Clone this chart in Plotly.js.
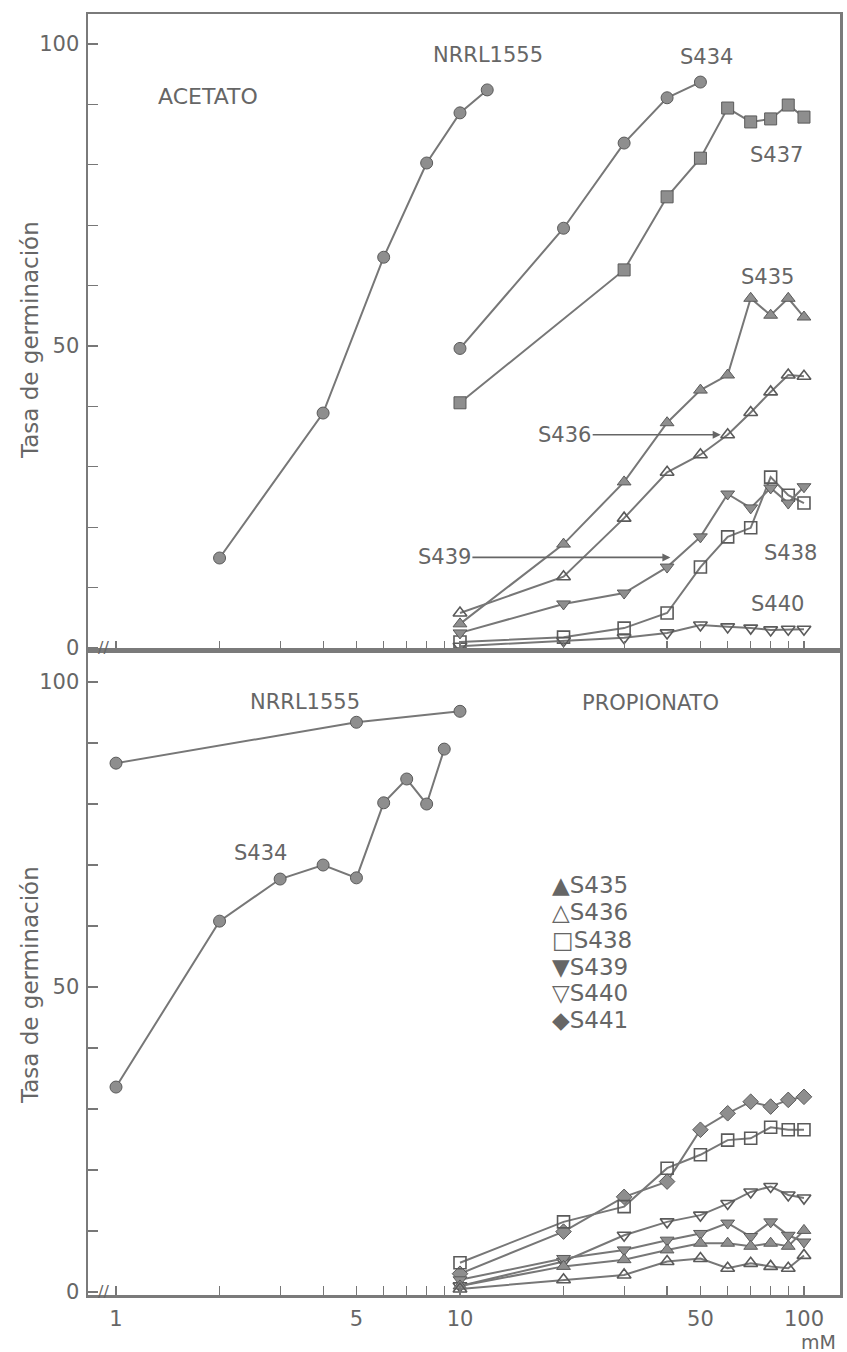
<!DOCTYPE html>
<html>
<head>
<meta charset="utf-8">
<script src="https://cdn.plot.ly/plotly-3.0.1.min.js"></script>
<style>html,body{margin:0;padding:0;background:#fff;}#chart{width:847px;height:1352px;}</style>
</head>
<body>
<div id="chart"></div>
<script>
// ---------- DATA ----------
// Concentrations (mM)
const concAll = [10, 20, 30, 40, 50, 60, 70, 80, 90, 100];

// Top panel: ACETATO
const topNRRL_x = [2, 4, 6, 8, 10, 12];
const topNRRL_y = [14.9, 38.9, 64.7, 80.3, 88.6, 92.4];
const topS434_x = [10, 20, 30, 40, 50];
const topS434_y = [49.6, 69.5, 83.6, 91.1, 93.7];
const topS437_x = [10, 30, 40, 50, 60, 70, 80, 90, 100];
const topS437_y = [40.6, 62.6, 74.7, 81.1, 89.4, 87.1, 87.6, 89.9, 87.9];
const topS435_y = [4.0, 17.2, 27.5, 37.3, 42.7, 45.2, 57.9, 55.1, 57.9, 54.8];
const topS436_y = [5.8, 11.8, 21.5, 29.1, 32.0, 35.3, 39.0, 42.4, 45.2, 45.0];
const topS438_y = [1.0, 1.8, 3.3, 5.8, 13.4, 18.4, 19.9, 28.3, 25.3, 24.0];
const topS439_y = [2.5, 7.3, 9.1, 13.4, 18.4, 25.5, 23.2, 26.5, 24.0, 26.7];
const topS440_y = [0.3, 1.2, 1.7, 2.5, 3.8, 3.5, 3.3, 3.0, 3.1, 3.1];

// Bottom panel: PROPIONATO
const botNRRL_x = [1, 5, 10];
const botNRRL_y = [86.7, 93.4, 95.2];
const botS434_x = [1, 2, 3, 4, 5, 6, 7, 8, 9];
const botS434_y = [33.6, 60.8, 67.7, 70.0, 67.9, 80.2, 84.1, 80.0, 89.0];
const botS435_y = [1.0, 4.2, 5.3, 6.9, 8.0, 8.0, 7.5, 8.0, 7.5, 10.1];
const botS436_y = [0.5, 2.0, 2.8, 5.0, 5.5, 3.9, 4.7, 4.2, 3.9, 6.0];
const botS438_y = [4.8, 11.5, 14.0, 20.3, 22.5, 24.9, 25.2, 27.0, 26.6, 26.6];
const botS439_y = [2.0, 5.5, 6.9, 8.5, 9.6, 11.3, 9.1, 11.5, 9.3, 8.2];
const botS440_y = [1.0, 5.0, 9.3, 11.5, 12.6, 14.5, 16.4, 17.3, 15.9, 15.4];
const botS441_y = [3.0, 9.9, 15.6, 18.1, 26.6, 29.3, 31.2, 30.4, 31.5, 32.0];

// Tick values / labels
const xTickVals = [1,2,3,4,5,6,7,8,9,10,20,30,40,50,60,70,80,90,100];
const xTickText = ['1','','','','5','','','','','10','','','','50','','','','','100'];
const yTickVals = [0,10,20,30,40,50,60,70,80,90,100];
const yTickText = ['0','','','','','50','','','','','100'];

const legendItems = ['▲S435', '△S436', '□S438', '▼S439', '▽S440', '◆S441'];

// ---------- STYLE ----------
const LINE = '#777';
const FILL = '#8e8e8e';
const EDGE = '#5a5a5a';
const TXT = '#666';
const FONT = 'DejaVu Sans, Liberation Sans, sans-serif';

function tr(x, y, sym, axis) {
  const open = sym.indexOf('open') >= 0;
  return {
    x: x, y: y, xaxis: axis === 2 ? 'x2' : 'x', yaxis: axis === 2 ? 'y2' : 'y',
    type: 'scatter', mode: 'lines+markers', showlegend: false, hoverinfo: 'skip',
    line: {color: LINE, width: 2},
    marker: {symbol: sym, size: 12, color: open ? EDGE : FILL,
             line: {color: EDGE, width: open ? 1.6 : 1}}
  };
}

const data = [
  tr(topNRRL_x, topNRRL_y, 'circle', 1),
  tr(topS434_x, topS434_y, 'circle', 1),
  tr(topS437_x, topS437_y, 'square', 1),
  tr(concAll, topS435_y, 'triangle-up', 1),
  tr(concAll, topS436_y, 'triangle-up-open', 1),
  tr(concAll, topS438_y, 'square-open', 1),
  tr(concAll, topS439_y, 'triangle-down', 1),
  tr(concAll, topS440_y, 'triangle-down-open', 1),
  tr(botNRRL_x, botNRRL_y, 'circle', 2),
  tr(botS434_x, botS434_y, 'circle', 2),
  tr(concAll, botS441_y, 'diamond', 2),
  tr(concAll, botS438_y, 'square-open', 2),
  tr(concAll, botS440_y, 'triangle-down-open', 2),
  tr(concAll, botS439_y, 'triangle-down', 2),
  tr(concAll, botS435_y, 'triangle-up', 2),
  tr(concAll, botS436_y, 'triangle-up-open', 2)
];

// ---------- LAYOUT ----------
const W = 847, H = 1352, ML = 88, MR = 7, MT = 14, MB = 57;
const PW = W - ML - MR, PH = H - MT - MB;
const px = v => (v - ML) / PW;
const py = v => (H - MB - v) / PH;
const split = py(650);

const xCommon = {
  type: 'log', range: [-0.0814, 2.1047], tickmode: 'array',
  tickvals: xTickVals, ticktext: xTickText, ticks: 'inside', ticklen: 9,
  tickcolor: '#777', tickwidth: 1.2, showline: true, mirror: true,
  linecolor: '#7a7a7a', linewidth: 2.5, showgrid: false, zeroline: false,
  tickfont: {family: FONT, size: 21, color: TXT}
};
const yCommon = {
  tickmode: 'array', tickvals: yTickVals, ticktext: yTickText,
  ticks: 'inside', ticklen: 10, tickcolor: '#777', tickwidth: 1.2,
  showline: true, mirror: true, linecolor: '#7a7a7a', linewidth: 2.5,
  showgrid: false, zeroline: false, ticklabelstandoff: 2,
  tickfont: {family: FONT, size: 21, color: TXT}
};

const ann = [];
function lab(text, x, y, size, extra) {
  ann.push(Object.assign({text: text, xref: 'paper', yref: 'paper', x: px(x), y: py(y),
    xanchor: 'center', yanchor: 'middle',
    showarrow: false, font: {family: FONT, size: size || 21, color: TXT}}, extra || {}));
}
lab('ACETATO', 208, 97, 22);
lab('NRRL1555', 488, 55);
lab('S434', 706, 57);
lab('S437', 776, 155);
lab('S435', 767, 277);
lab('S438', 790, 553);
lab('S440', 777, 604);
lab('NRRL1555', 305, 702);
lab('S434', 260, 853);
lab('PROPIONATO', 650, 703);
lab('mM', 818, 1342, 19);
lab('Tasa de germinación', 30, 340, 23, {textangle: -90});
lab('Tasa de germinación', 30, 985, 23, {textangle: -90});
const legRows = [885, 912, 940, 967, 993, 1020];
legendItems.forEach((t, i) => lab(t, 550, legRows[i], 23, {xanchor: 'left'}));
lab('//', 103, 647, 16);
lab('//', 103, 1291, 16);

// Arrow annotations pointing at S436 and S439 points
ann.push({text: 'S436', xref: 'x', yref: 'y', x: Math.log10(60), y: topS436_y[5],
  ax: -163, ay: 0, showarrow: true, arrowhead: 2, arrowsize: 1, arrowwidth: 1.6,
  arrowcolor: '#666', standoff: 7, font: {family: FONT, size: 21, color: TXT}});
ann.push({text: 'S439', xref: 'x', yref: 'y', x: Math.log10(42), y: 15.0,
  ax: -230, ay: 0, showarrow: true, arrowhead: 2, arrowsize: 1, arrowwidth: 1.6,
  arrowcolor: '#666', standoff: 4, font: {family: FONT, size: 21, color: TXT}});

const layout = {
  width: W, height: H, margin: {l: ML, r: MR, t: MT, b: MB},
  paper_bgcolor: '#fff', plot_bgcolor: '#fff', showlegend: false,
  xaxis: Object.assign({}, xCommon, {anchor: 'y', showticklabels: false}),
  yaxis: Object.assign({}, yCommon, {domain: [split, 1], range: [-0.33, 104.97], anchor: 'x'}),
  xaxis2: Object.assign({}, xCommon, {anchor: 'y2', showticklabels: true, ticklabelstandoff: 3}),
  yaxis2: Object.assign({}, yCommon, {domain: [0, split], range: [-0.49, 105.25], anchor: 'x2'}),
  annotations: ann
};

Plotly.newPlot('chart', data, layout, {displayModeBar: false, staticPlot: true});
</script>
</body>
</html>
